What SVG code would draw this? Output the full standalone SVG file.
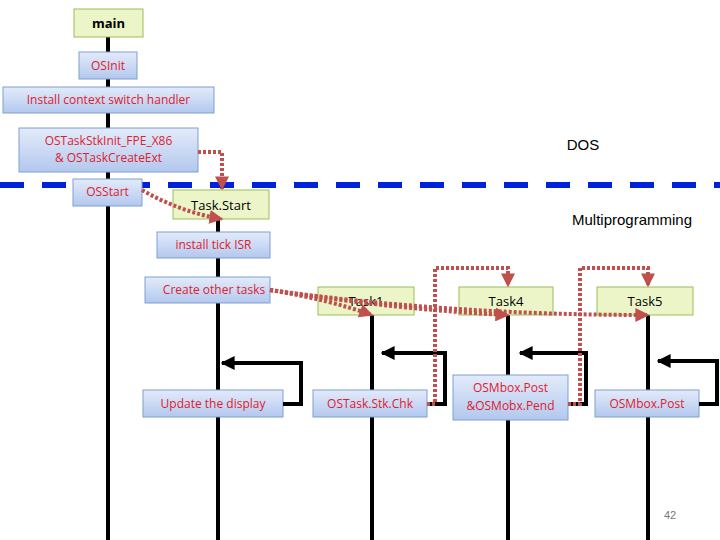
<svg xmlns="http://www.w3.org/2000/svg" width="720" height="540" viewBox="0 0 720 540">
<defs>
<linearGradient id="bg" x1="0" y1="0" x2="0" y2="1"><stop offset="0" stop-color="#e3ebfa"/><stop offset="1" stop-color="#b3c8ee"/></linearGradient>
<marker id="ah" viewBox="0 0 10 10" refX="9" refY="5" markerWidth="3.5" markerHeight="3.5" orient="auto"><path d="M0,0 L10,5 L0,10 z" fill="#c0504d"/></marker>
<marker id="bh" viewBox="0 0 10 10" refX="9" refY="5" markerWidth="3.5" markerHeight="3.5" orient="auto"><path d="M0,0 L10,5 L0,10 z" fill="#000"/></marker>
<style>
.g{fill:#ebf5c8;stroke:#9bbb59;stroke-width:1}
.b{fill:url(#bg);stroke:#7f9fd0;stroke-width:1}
.t{font-family:"Open Sans","Liberation Sans",sans-serif;font-size:12px;fill:#e0202c;text-anchor:middle}
.k{font-family:"Open Sans","Liberation Sans",sans-serif;font-size:13px;fill:#000;text-anchor:middle}
.life{stroke:#000;stroke-width:4;fill:none}
.loop{stroke:#000;stroke-width:4;fill:none;marker-end:url(#bh)}
.d{stroke:#c0504d;stroke-width:4;stroke-dasharray:3 2;fill:none;marker-end:url(#ah)}
</style>
</defs>
<rect width="720" height="540" fill="#fff"/>
<g id="lifelines">
<line class="life" x1="108" y1="37" x2="108" y2="540"/>
<line class="life" x1="218" y1="219" x2="218" y2="540"/>
<line class="life" x1="372" y1="315" x2="372" y2="540"/>
<line class="life" x1="508" y1="315" x2="508" y2="540"/>
<line class="life" x1="648" y1="315" x2="648" y2="540"/>
</g>
<line x1="0" y1="185" x2="720" y2="185" stroke="#0022dd" stroke-width="6" stroke-dasharray="24 18"/>
<g id="main"><rect class="g" x="74" y="9" width="69" height="28"/><text class="k" x="108.5" y="28" font-weight="bold">main</text></g>
<g id="osinit"><rect class="b" x="79" y="52" width="58" height="27"/><text class="t" x="108" y="70">OSInit</text></g>
<g id="install"><rect class="b" x="3" y="87" width="211" height="26"/><text class="t" x="108.5" y="104">Install context switch handler</text></g>
<g id="ostask"><rect class="b" x="19" y="128" width="179" height="44"/><text class="t" x="108.5" y="145">OSTaskStkInit_FPE_X86</text><text class="t" x="108.5" y="162">&amp; OSTaskCreateExt</text></g>
<g id="osstart"><rect class="b" x="73" y="179" width="69" height="27"/><text class="t" x="107.5" y="196">OSStart</text></g>
<g id="taskstart"><rect class="g" x="173" y="190" width="96" height="29"/><text class="k" x="221" y="210">Task.Start</text></g>
<g id="tick"><rect class="b" x="157" y="232" width="113" height="26"/><text class="t" x="213.5" y="249">install tick ISR</text></g>
<g id="create"><rect class="b" x="145" y="277" width="125" height="26"/><text class="t" x="214" y="294">Create other tasks</text></g>
<g id="update"><rect class="b" x="143" y="390" width="140" height="27"/><text class="t" x="213" y="408">Update the display</text></g>
<g id="task1"><rect class="g" x="318" y="287" width="96" height="28"/><text class="k" x="366" y="306">Task1</text></g>
<g id="task4"><rect class="g" x="459" y="287" width="94" height="28"/><text class="k" x="506" y="306">Task4</text></g>
<g id="task5"><rect class="g" x="597" y="287" width="96" height="28"/><text class="k" x="645" y="306">Task5</text></g>
<g id="stkchk"><rect class="b" x="313" y="390" width="114" height="27"/><text class="t" x="370" y="408">OSTask.Stk.Chk</text></g>
<g id="mbox4"><rect class="b" x="453" y="375" width="115" height="45"/><text class="t" x="510.5" y="392">OSMbox.Post</text><text class="t" x="510.5" y="410">&amp;OSMobx.Pend</text></g>
<g id="mbox5"><rect class="b" x="595" y="390" width="104" height="27"/><text class="t" x="647" y="408">OSMbox.Post</text></g>
<g id="connectors">
<path class="loop" d="M283,404 H301 V363 H222"/>
<path class="loop" d="M427,404 H445 V353 H382"/>
<path class="loop" d="M568,404 H586 V353 H520"/>
<path class="loop" d="M699,404 H717 V361 H658"/>
<path class="d" d="M198,152 H222 V189"/>
<path class="d" d="M142,190 Q180,212 222,219"/>
<path class="d" d="M270,290 Q330,300 372,315"/>
<path class="d" d="M270,290 Q400,310 508,315"/>
<path class="d" d="M270,290 Q450,315 648,315"/>
<path class="d" d="M427,404 H435 V268 H508 V286"/>
<path class="d" d="M568,404 H580 V268 H648 V286"/>
</g>
<text x="583" y="150" font-family="Liberation Sans,sans-serif" font-size="15" text-anchor="middle">DOS</text>
<text x="632" y="225" font-family="Liberation Sans,sans-serif" font-size="15" text-anchor="middle">Multiprogramming</text>
<text x="670" y="519" font-family="Liberation Sans,sans-serif" font-size="11" fill="#777" text-anchor="middle">42</text>
</svg>
